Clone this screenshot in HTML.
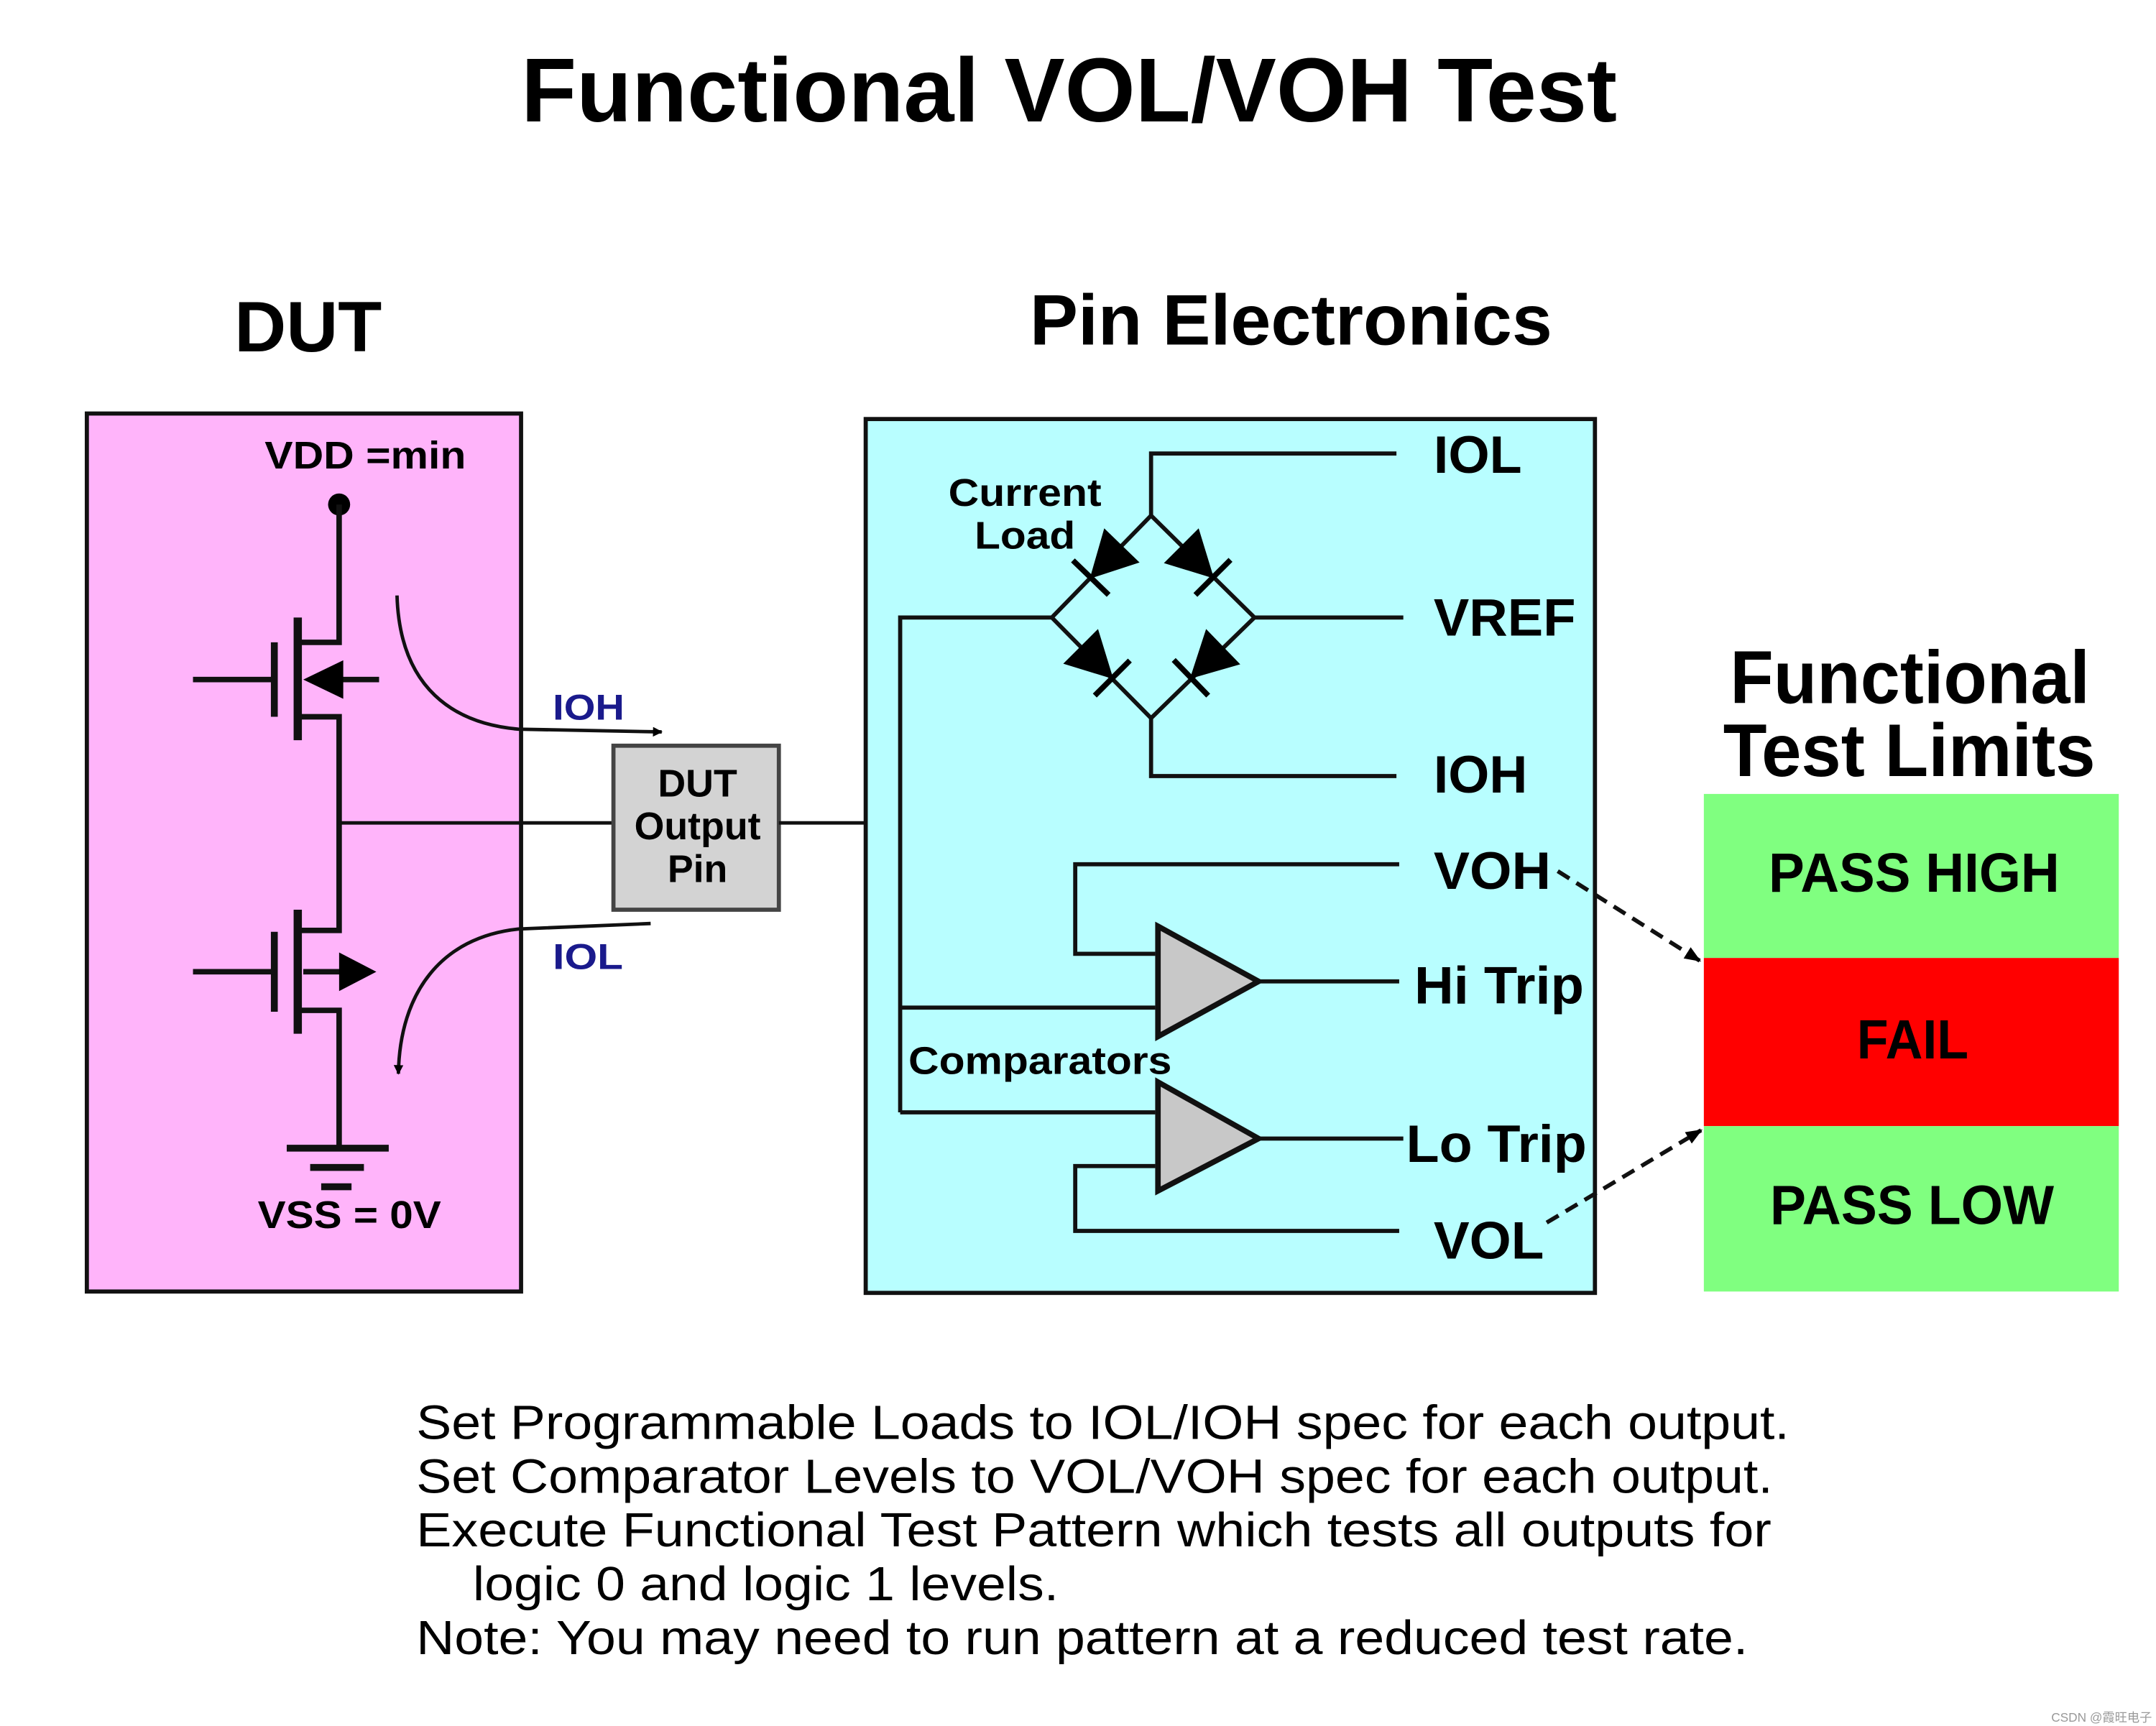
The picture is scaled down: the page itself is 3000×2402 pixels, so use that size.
<!DOCTYPE html>
<html><head><meta charset="utf-8"><style>
html,body{margin:0;padding:0;background:#fff;}
svg{display:block;}
text{font-family:"Liberation Sans",sans-serif;}
.b{font-weight:bold;}
</style></head><body>
<svg width="3000" height="2402" viewBox="0 0 1564 1252.2" xmlns="http://www.w3.org/2000/svg">
<defs>
<marker id="ah" viewBox="0 0 10 10" refX="9" refY="5" markerWidth="7" markerHeight="7" orient="auto" markerUnits="userSpaceOnUse"><path d="M0,0 L10,5 L0,10 z" fill="#000"/></marker>
<marker id="ah2" viewBox="0 0 10 10" refX="9" refY="5" markerWidth="12" markerHeight="12" orient="auto" markerUnits="userSpaceOnUse"><path d="M0,1 L10,5 L0,9 z" fill="#000"/></marker>
</defs>
<rect width="1564" height="1252.2" fill="#fff"/>
<text class="b" x="378" y="88" font-size="66" textLength="795" lengthAdjust="spacingAndGlyphs">Functional VOL/VOH Test</text>
<text class="b" x="170" y="255" font-size="52" textLength="107" lengthAdjust="spacingAndGlyphs">DUT</text>
<text class="b" x="747" y="250" font-size="52" textLength="379" lengthAdjust="spacingAndGlyphs">Pin Electronics</text>

<rect x="63" y="300" width="315" height="637" fill="#ffb4fa" stroke="#111" stroke-width="3"/>
<text class="b" x="192" y="340" font-size="28" textLength="146" lengthAdjust="spacingAndGlyphs">VDD =min</text>
<circle cx="246" cy="366" r="8" fill="#000"/>
<g stroke="#111" stroke-width="4" fill="none">
<polyline points="246,366 246,466 216,466"/>
<polyline points="216,520 246,520 246,675 216,675"/>
<polyline points="216,733 246,733 246,833"/>
<line x1="216" y1="448" x2="216" y2="537" stroke-width="6"/>
<line x1="199" y1="466" x2="199" y2="520" stroke-width="5"/>
<line x1="140" y1="493" x2="199" y2="493"/>
<line x1="230" y1="493" x2="275" y2="493"/>
<line x1="216" y1="660" x2="216" y2="750" stroke-width="6"/>
<line x1="199" y1="676" x2="199" y2="734" stroke-width="5"/>
<line x1="140" y1="705" x2="199" y2="705"/>
<line x1="220" y1="705" x2="250" y2="705"/>
<line x1="208" y1="833" x2="282" y2="833" stroke-width="5"/>
<line x1="225" y1="847" x2="264" y2="847" stroke-width="5"/>
<line x1="233" y1="861" x2="255" y2="861" stroke-width="5"/>
</g>
<path d="M220,493 L249,479 L249,507 z" fill="#000"/>
<path d="M273,705 L246,691 L246,719 z" fill="#000"/>
<line x1="246" y1="597" x2="445" y2="597" stroke="#111" stroke-width="2.5"/>
<text class="b" x="187" y="891" font-size="28" textLength="133" lengthAdjust="spacingAndGlyphs">VSS = 0V</text>
<path d="M288,432 C290,500 330,525 376,529 L480,531" stroke="#111" stroke-width="2.5" fill="none" marker-end="url(#ah)"/>
<path d="M472,670 L376,674 C320,680 290,720 289,779" stroke="#111" stroke-width="2.5" fill="none" marker-end="url(#ah)"/>
<text class="b" x="401" y="522" font-size="26" fill="#1a1a8c" textLength="52" lengthAdjust="spacingAndGlyphs">IOH</text>
<text class="b" x="401" y="703" font-size="26" fill="#1a1a8c" textLength="51" lengthAdjust="spacingAndGlyphs">IOL</text>
<rect x="445" y="541" width="120" height="119" fill="#d3d3d3" stroke="#444" stroke-width="3"/>
<g class="b" font-size="28" text-anchor="middle" font-weight="bold">
<text x="506" y="578">DUT</text><text x="506" y="609">Output</text><text x="506" y="640">Pin</text>
</g>
<line x1="565" y1="597" x2="653" y2="597" stroke="#111" stroke-width="2.5"/>

<rect x="628" y="304" width="529" height="634" fill="#b8feff" stroke="#111" stroke-width="3"/>
<g stroke="#111" stroke-width="3" fill="none">
<polyline points="653,807 653,448 763,448 835,374 910,448 835,521 763,448"/>
<line x1="910" y1="448" x2="1018" y2="448"/>
<polyline points="835,374 835,329 1013,329"/>
<polyline points="835,521 835,563 1013,563"/>
<polyline points="1015,627 780,627 780,692 838,692"/>
<line x1="653" y1="731" x2="838" y2="731"/>
<line x1="653" y1="807" x2="838" y2="807"/>
<polyline points="838,846 780,846 780,893 1015,893"/>
<line x1="913" y1="712" x2="1015" y2="712"/>
<line x1="913" y1="826" x2="1018" y2="826"/>
</g>
<g fill="#000" stroke="#000" stroke-width="4">
<g transform="translate(801,409) rotate(134)"><path d="M-18,-17 L-18,17 L14,0 z" stroke-width="1"/><line x1="14" y1="-18" x2="14" y2="18"/></g>
<g transform="translate(870,409) rotate(45)"><path d="M-18,-17 L-18,17 L14,0 z" stroke-width="1"/><line x1="14" y1="-18" x2="14" y2="18"/></g>
<g transform="translate(797,482) rotate(45)"><path d="M-18,-17 L-18,17 L14,0 z" stroke-width="1"/><line x1="14" y1="-18" x2="14" y2="18"/></g>
<g transform="translate(874,482) rotate(136)"><path d="M-18,-17 L-18,17 L14,0 z" stroke-width="1"/><line x1="14" y1="-18" x2="14" y2="18"/></g>
</g>
<path d="M840,672 L913,712 L840,752 z" fill="#c8c8c8" stroke="#111" stroke-width="4"/>
<path d="M840,785 L913,826 L840,864 z" fill="#c8c8c8" stroke="#111" stroke-width="4"/>
<g class="b" font-weight="bold">
<text x="688" y="367" font-size="28" textLength="111" lengthAdjust="spacingAndGlyphs">Current</text>
<text x="707" y="398" font-size="28" textLength="73" lengthAdjust="spacingAndGlyphs">Load</text>
<text x="1040" y="343" font-size="38" textLength="64" lengthAdjust="spacingAndGlyphs">IOL</text>
<text x="1040" y="461" font-size="38" textLength="103" lengthAdjust="spacingAndGlyphs">VREF</text>
<text x="1040" y="575" font-size="38" textLength="68" lengthAdjust="spacingAndGlyphs">IOH</text>
<text x="1040" y="645" font-size="38" textLength="85" lengthAdjust="spacingAndGlyphs">VOH</text>
<text x="1026" y="728" font-size="38" textLength="123" lengthAdjust="spacingAndGlyphs">Hi Trip</text>
<text x="659" y="779" font-size="28" textLength="191" lengthAdjust="spacingAndGlyphs">Comparators</text>
<text x="1020" y="843" font-size="38" textLength="131" lengthAdjust="spacingAndGlyphs">Lo Trip</text>
<text x="1040" y="913" font-size="38" textLength="80" lengthAdjust="spacingAndGlyphs">VOL</text>
</g>
<line x1="1130" y1="632" x2="1233" y2="697" stroke="#111" stroke-width="3" stroke-dasharray="10,6" marker-end="url(#ah2)"/>
<line x1="1122" y1="887" x2="1234" y2="820" stroke="#111" stroke-width="3" stroke-dasharray="10,6" marker-end="url(#ah2)"/>

<text class="b" x="1255" y="510" font-size="54" textLength="261" lengthAdjust="spacingAndGlyphs">Functional</text>
<text class="b" x="1250" y="563" font-size="54" textLength="270" lengthAdjust="spacingAndGlyphs">Test Limits</text>
<rect x="1236" y="576" width="301" height="119" fill="#80ff80"/>
<rect x="1236" y="695" width="301" height="122" fill="#ff0000"/>
<rect x="1236" y="817" width="301" height="120" fill="#80ff80"/>
<text class="b" x="1283" y="647" font-size="40" textLength="211" lengthAdjust="spacingAndGlyphs">PASS HIGH</text>
<text class="b" x="1347" y="768" font-size="40" textLength="81" lengthAdjust="spacingAndGlyphs">FAIL</text>
<text class="b" x="1284" y="888" font-size="40" textLength="206" lengthAdjust="spacingAndGlyphs">PASS LOW</text>

<g font-size="35">
<text x="302" y="1044" textLength="996" lengthAdjust="spacingAndGlyphs">Set Programmable Loads to IOL/IOH spec for each output.</text>
<text x="302" y="1083" textLength="984" lengthAdjust="spacingAndGlyphs">Set Comparator Levels to VOL/VOH spec for each output.</text>
<text x="302" y="1122" textLength="983" lengthAdjust="spacingAndGlyphs">Execute Functional Test Pattern which tests all outputs for</text>
<text x="343" y="1161" textLength="425" lengthAdjust="spacingAndGlyphs">logic 0 and logic 1 levels.</text>
<text x="302" y="1200" textLength="966" lengthAdjust="spacingAndGlyphs">Note: You may need to run pattern at a reduced test rate.</text>
</g>
<text x="1488" y="1249" font-size="9" fill="#999" font-family="'Liberation Sans','Noto Sans CJK SC',sans-serif">CSDN @霞旺电子</text>
</svg>
</body></html>
